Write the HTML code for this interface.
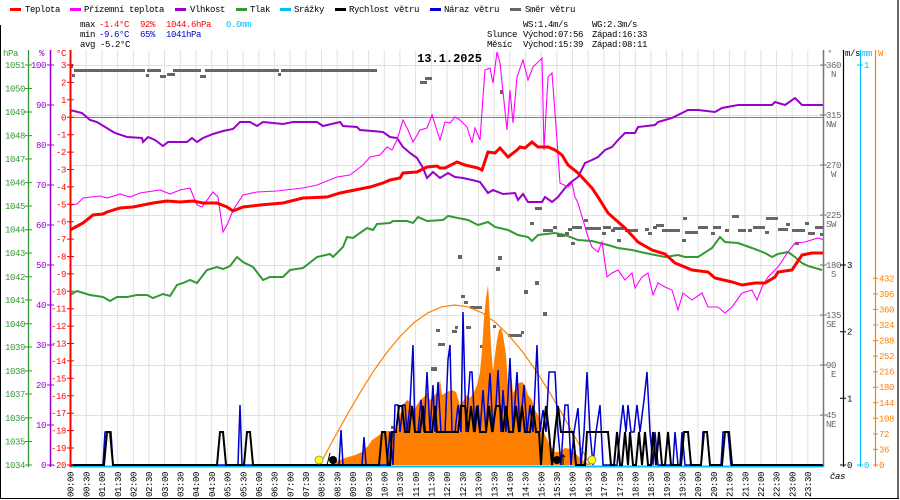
<!DOCTYPE html>
<html><head><meta charset="utf-8"><style>
html,body{margin:0;padding:0;background:#fff;}
svg{display:block;}
text{font-family:"Liberation Mono",monospace;font-size:9px;letter-spacing:-0.4px;}
</style></head><body>
<svg width="900" height="500" viewBox="0 0 900 500" xmlns="http://www.w3.org/2000/svg">
<rect x="0" y="0" width="900" height="500" fill="#fff"/>
<!-- frame -->
<line x1="0.5" y1="25" x2="0.5" y2="499" stroke="#000" stroke-width="1"/>
<line x1="898" y1="0" x2="898" y2="499" stroke="#000" stroke-width="1.2"/>
<line x1="0" y1="498.5" x2="899" y2="498.5" stroke="#000" stroke-width="1"/>

<!-- legend -->
<g>
<rect x="10" y="8" width="11" height="3" fill="#ff0000"/><text x="25" y="12">Teplota</text>
<rect x="70" y="8" width="11" height="3" fill="#ff00ff"/><text x="84" y="12">Přízemní teplota</text>
<rect x="175" y="8" width="11" height="3" fill="#9900cc"/><text x="190" y="12">Vlhkost</text>
<rect x="236" y="8" width="11" height="3" fill="#339933"/><text x="250" y="12">Tlak</text>
<rect x="280" y="8" width="11" height="3" fill="#00bfff"/><text x="294" y="12">Srážky</text>
<rect x="335" y="8" width="11" height="3" fill="#000"/><text x="349" y="12">Rychlost větru</text>
<rect x="430" y="8" width="11" height="3" fill="#0000cc"/><text x="444" y="12">Náraz větru</text>
<rect x="510" y="8" width="11" height="3" fill="#666"/><text x="525" y="12">Směr větru</text>
</g>
<!-- stats -->
<g>
<text x="80" y="27">max</text><text x="99" y="27" fill="#ff0000">-1.4°C</text><text x="140" y="27" fill="#ff0000">92%</text><text x="166" y="27" fill="#ff0000">1044.6hPa</text><text x="226" y="27" fill="#00bfff">0.0mm</text>
<text x="80" y="37">min</text><text x="99" y="37" fill="#0000cc">-9.6°C</text><text x="140" y="37" fill="#0000cc">65%</text><text x="166" y="37" fill="#0000cc">1041hPa</text>
<text x="80" y="47">avg -5.2°C</text>
<text x="523" y="27">WS:1.4m/s</text><text x="592" y="27">WG:2.3m/s</text>
<text x="487" y="37">Slunce</text><text x="523" y="37">Východ:07:56</text><text x="592" y="37">Západ:16:33</text>
<text x="487" y="47">Měsíc</text><text x="523" y="47">Východ:15:39</text><text x="592" y="47">Západ:08:11</text>
</g>

<!-- grid -->
<g stroke="#e0e0e0" stroke-width="1">
<line x1="86.2" y1="50" x2="86.2" y2="465"/><line x1="101.9" y1="50" x2="101.9" y2="465"/><line x1="117.6" y1="50" x2="117.6" y2="465"/><line x1="133.3" y1="50" x2="133.3" y2="465"/><line x1="148.9" y1="50" x2="148.9" y2="465"/><line x1="164.6" y1="50" x2="164.6" y2="465"/><line x1="180.3" y1="50" x2="180.3" y2="465"/><line x1="196" y1="50" x2="196" y2="465"/><line x1="211.7" y1="50" x2="211.7" y2="465"/><line x1="227.4" y1="50" x2="227.4" y2="465"/><line x1="243.1" y1="50" x2="243.1" y2="465"/><line x1="258.8" y1="50" x2="258.8" y2="465"/><line x1="274.4" y1="50" x2="274.4" y2="465"/><line x1="290.1" y1="50" x2="290.1" y2="465"/><line x1="305.8" y1="50" x2="305.8" y2="465"/><line x1="321.5" y1="50" x2="321.5" y2="465"/><line x1="337.2" y1="50" x2="337.2" y2="465"/><line x1="352.9" y1="50" x2="352.9" y2="465"/><line x1="368.6" y1="50" x2="368.6" y2="465"/><line x1="384.3" y1="50" x2="384.3" y2="465"/><line x1="399.9" y1="50" x2="399.9" y2="465"/><line x1="415.6" y1="50" x2="415.6" y2="465"/><line x1="431.3" y1="50" x2="431.3" y2="465"/><line x1="447" y1="50" x2="447" y2="465"/><line x1="462.7" y1="50" x2="462.7" y2="465"/><line x1="478.4" y1="50" x2="478.4" y2="465"/><line x1="494.1" y1="50" x2="494.1" y2="465"/><line x1="509.8" y1="50" x2="509.8" y2="465"/><line x1="525.4" y1="50" x2="525.4" y2="465"/><line x1="541.1" y1="50" x2="541.1" y2="465"/><line x1="556.8" y1="50" x2="556.8" y2="465"/><line x1="572.5" y1="50" x2="572.5" y2="465"/><line x1="588.2" y1="50" x2="588.2" y2="465"/><line x1="603.9" y1="50" x2="603.9" y2="465"/><line x1="619.6" y1="50" x2="619.6" y2="465"/><line x1="635.3" y1="50" x2="635.3" y2="465"/><line x1="650.9" y1="50" x2="650.9" y2="465"/><line x1="666.6" y1="50" x2="666.6" y2="465"/><line x1="682.3" y1="50" x2="682.3" y2="465"/><line x1="698" y1="50" x2="698" y2="465"/><line x1="713.7" y1="50" x2="713.7" y2="465"/><line x1="729.4" y1="50" x2="729.4" y2="465"/><line x1="745.1" y1="50" x2="745.1" y2="465"/><line x1="760.8" y1="50" x2="760.8" y2="465"/><line x1="776.4" y1="50" x2="776.4" y2="465"/><line x1="792.1" y1="50" x2="792.1" y2="465"/><line x1="807.8" y1="50" x2="807.8" y2="465"/>
<line x1="70" y1="65.5" x2="823" y2="65.5"/><line x1="70" y1="115.5" x2="823" y2="115.5"/><line x1="70" y1="165.5" x2="823" y2="165.5"/><line x1="70" y1="215.5" x2="823" y2="215.5"/><line x1="70" y1="265.5" x2="823" y2="265.5"/><line x1="70" y1="315.5" x2="823" y2="315.5"/><line x1="70" y1="365.5" x2="823" y2="365.5"/><line x1="70" y1="415.5" x2="823" y2="415.5"/>
</g>
<line x1="70" y1="117.5" x2="823" y2="117.5" stroke="#808080" stroke-width="1"/>

<!-- title -->
<text x="449.5" y="62" text-anchor="middle" style="font-size:12px;font-weight:bold;letter-spacing:0">13.1.2025</text>

<!-- wind direction squares -->
<g fill="#666">
<rect x="74" y="69" width="71" height="3"/><rect x="147" y="69" width="14" height="3"/><rect x="173" y="69" width="28" height="3"/><rect x="205" y="69" width="74" height="3"/><rect x="281" y="69" width="96" height="3"/>
<rect x="70" y="64" width="3" height="4"/><rect x="72" y="74" width="3" height="3"/><rect x="146" y="74" width="3" height="3"/><rect x="160" y="75" width="6" height="3"/><rect x="167" y="73" width="8" height="3"/><rect x="200" y="75" width="6" height="3"/><rect x="278" y="73" width="3" height="3"/><rect x="420" y="81" width="7" height="3"/><rect x="425" y="77" width="7" height="3"/>
<rect x="500" y="90" width="3" height="4"/><rect x="535" y="207" width="7" height="3"/><rect x="530" y="222" width="4" height="3"/>
<rect x="458" y="255" width="4" height="4"/><rect x="498" y="256" width="4" height="4"/><rect x="496" y="267" width="4" height="4"/><rect x="535" y="281" width="4" height="4"/><rect x="524" y="290" width="4" height="4"/><rect x="461" y="295" width="4" height="3"/><rect x="464" y="301" width="4" height="3"/><rect x="470" y="306" width="12" height="3"/><rect x="543" y="312" width="4" height="4"/>
<rect x="455" y="326" width="3" height="3"/><rect x="454" y="330" width="3" height="3"/><rect x="466" y="326" width="5" height="3"/><rect x="493" y="325" width="3" height="3"/><rect x="482" y="345" width="3" height="3"/><rect x="508" y="334" width="14" height="3"/><rect x="521" y="331" width="3" height="3"/>
<rect x="436" y="329" width="4" height="3"/><rect x="452" y="330" width="4" height="3"/><rect x="438" y="343" width="7" height="3"/><rect x="431" y="367" width="6" height="4"/><rect x="480" y="345" width="3" height="3"/><rect x="445" y="396" width="2" height="3"/><rect x="447" y="409" width="4" height="4"/><rect x="448" y="410" width="3" height="3"/>
<rect x="391" y="426" width="4" height="3"/><rect x="397" y="439" width="2" height="3"/><rect x="400" y="443" width="6" height="3"/><rect x="410" y="454" width="8" height="4"/><rect x="375" y="458" width="12" height="3"/><rect x="483" y="419" width="2" height="3"/><rect x="484" y="420" width="3" height="3"/><rect x="507" y="439" width="2" height="3"/><rect x="505" y="443" width="2" height="3"/><rect x="502" y="453" width="2" height="4"/>
<rect x="543" y="229" width="10" height="3"/><rect x="553" y="226" width="4" height="3"/><rect x="557" y="234" width="8" height="3"/><rect x="565" y="232" width="4" height="3"/><rect x="568" y="228" width="4" height="3"/><rect x="571" y="242" width="4" height="3"/><rect x="572" y="226" width="10" height="3"/><rect x="584" y="219" width="4" height="3"/><rect x="585" y="227" width="16" height="3"/><rect x="602" y="232" width="4" height="3"/><rect x="603" y="226" width="8" height="3"/><rect x="611" y="229" width="4" height="3"/><rect x="617" y="239" width="4" height="3"/><rect x="613" y="227" width="13" height="3"/><rect x="625" y="229" width="13" height="3"/><rect x="645" y="228" width="4" height="3"/><rect x="648" y="232" width="4" height="3"/><rect x="653" y="226" width="4" height="3"/><rect x="656" y="224" width="8" height="3"/><rect x="662" y="229" width="18" height="3"/><rect x="682" y="239" width="4" height="3"/><rect x="683" y="217" width="4" height="3"/><rect x="685" y="231" width="13" height="3"/><rect x="698" y="226" width="10" height="3"/><rect x="711" y="232" width="4" height="3"/><rect x="713" y="226" width="8" height="3"/><rect x="725" y="229" width="4" height="3"/><rect x="732" y="215" width="7" height="3"/><rect x="738" y="229" width="8" height="3"/><rect x="748" y="229" width="4" height="3"/><rect x="753" y="226" width="12" height="3"/><rect x="765" y="231" width="4" height="3"/><rect x="766" y="217" width="12" height="3"/><rect x="778" y="228" width="10" height="3"/><rect x="786" y="223" width="4" height="3"/><rect x="792" y="229" width="13" height="3"/><rect x="795" y="242" width="4" height="3"/><rect x="805" y="222" width="4" height="3"/><rect x="808" y="232" width="7" height="3"/><rect x="815" y="226" width="8" height="3"/><rect x="820" y="233" width="3" height="3"/>
</g>

<!-- solar radiation area -->
<path d="M329,465 L335,462 L345,458 L355,455 L362,452 L368,446 L372,440 L378,436 L384,431 L392,431 L398,430 L400,415 L403,405 L407,400 L410,402 L414,410 L417,405 L420,400 L424,397 L427,393 L430,400 L433,398 L437,392 L440,380 L442,395 L447,392 L452,390 L456,392 L460,405 L464,400 L467,395 L470,398 L474,392 L477,385 L480,372 L482,350 L484,318 L486,298 L488,285 L489,300 L491,345 L493,372 L495,355 L497,340 L499,330 L501,328 L503,335 L506,355 L508,385 L511,372 L513,393 L516,388 L519,383 L522,382 L525,385 L528,395 L532,400 L535,410 L538,415 L541,425 L545,435 L550,445 L555,452 L560,452 L565,448 L570,449 L575,453 L580,458 L585,462 L590,465 Z" fill="#ff8000"/>
<!-- theoretical sun -->
<polyline fill="none" stroke="#ff8000" stroke-width="1.2" points="319.6,465 333.1,440 346.7,415.6 360.2,392.4 373.7,370.9 387.3,351.9 400.8,335.6 414.3,322.4 427.9,312.8 441.4,306.9 454.9,305 468.4,306.9 482,312.8 495.5,322.4 509,335.6 522.6,351.9 536.1,370.9 549.6,392.4 563.2,415.6 576.7,440 590.2,465"/>

<!-- precipitation baseline -->
<line x1="70" y1="466.5" x2="823" y2="466.5" stroke="#00bfff" stroke-width="2"/>

<!-- gust -->
<path fill="none" stroke="#0000cc" stroke-width="1.5" d="M70,465 H103 L105,432 H111 L113,465 H238 L240,405 L242,465 H339 L341,430 L343,465 H362 L364,437 L366,465 H384 L387,465 L390,432 L393,465 L395,405 L398,405 L400,432 L403,405 L405,405 L407,432 L410,405 L413,345 L415,432 L418,432 L421,400 L424,432 L427,372 L430,432 L433,385 L435,432 L438,382 L441,432 L445,432 L448,360 L450,345 L452,432 L455,432 L458,405 L461,432 L463,312 L466,432 L468,400 L470,372 L472,372 L475,432 L478,405 L480,432 L483,390 L486,432 L490,373 L493,432 L496,405 L498,370 L501,432 L503,390 L506,432 L510,358 L513,432 L517,372 L520,432 L524,385 L527,432 L530,405 L533,432 L537,345 L540,432 L543,410 L546,432 L549,372 L555,372 L558,432 L561,465 L563,432 L565,405 L568,405 L571,465 L574,432 L578,408 L581,465 L584,432 L587,372 L590,432 L593,465 L596,432 L600,405 L603,465 L617,465 L620,432 L623,405 L626,432 L628,405 L631,432 L634,432 L637,405 L640,432 L644,400 L647,372 L650,432 L653,465 L655,432 L658,465 L673,465 L675,432 L678,465 L680,465 L682,432 L685,465 L701,465 L703,432 L707,432 L710,465 L721,465 L723,432 L728,432 L731,465 H823"/>
<!-- wind speed -->
<path fill="none" stroke="#000" stroke-width="2" d="M70,465 H104 L107,432 H110 L113,465 H217 L220,432 H223 L226,465 H244 L247,432 H250 L253,465 H379 L382,432 L385,432 L388,465 H390 L392,432 H396 L399,406 H402 L405,432 H409 L412,406 L415,432 H420 L423,406 L425,432 H432 L435,406 L437,432 H458 L461,406 H465 L468,432 L471,406 L474,432 L477,406 L480,432 H486 L489,406 L492,432 L496,406 H500 L503,432 L506,406 L509,432 H513 L516,406 L519,432 L522,406 L525,432 H530 L533,406 L536,432 H539 L541,465 L543,432 L546,406 L549,432 L552,465 L555,432 L558,406 L561,432 H573 L576,465 H585 L587,432 H608 L611,465 H614 L617,432 L620,465 H622 L625,432 L628,465 L630,432 L633,465 H636 L639,432 L642,465 L645,432 L648,465 H651 L653,432 L656,465 L659,432 L662,465 H665 L668,432 L671,465 H681 L684,432 H688 L691,465 H701 L704,432 H707 L710,465 H722 L725,432 H729 L732,465 H823"/>

<!-- pressure -->
<polyline fill="none" stroke="#339933" stroke-width="2" points="70,295 77,291 90,295 103,297 110,301 117,297 127,297 137,295 147,295 153,298 163,294 170,296 177,285 183,283 190,280 197,283 207,270 217,267 223,269 230,266 237,257 243,262 253,267 263,280 270,277 283,277 290,270 303,268 317,257 330,254 333,257 343,247 347,237 353,238 367,228 373,230 377,224 390,223 393,221 407,221 413,223 418,217 427,221 443,220 448,216 458,218 468,220 478,225 488,222 495,227 508,230 518,235 528,237 532,241 538,235 555,233 565,235 578,240 592,241 608,245 618,248 632,250 645,253 665,257 678,255 685,257 698,257 712,248 720,237 725,242 738,243 752,248 765,253 772,257 778,254 788,252 795,257 802,263 808,266 822,270"/>
<!-- humidity -->
<polyline fill="none" stroke="#9900cc" stroke-width="2" points="70,110 82,113 90,120 97,122 110,130 115,133 127,137 142,138 143,142 148,137 155,140 163,146 168,142 187,142 192,138 197,142 203,138 213,134 223,131 233,129 240,122 250,122 257,126 263,122 283,124 293,122 317,122 323,126 340,122 343,126 357,127 360,130 372,131 383,132 390,137 397,138 403,147 410,153 417,158 423,168 427,178 433,172 440,178 448,173 455,177 463,178 472,180 480,182 488,193 493,190 503,194 515,193 518,200 523,194 528,202 542,202 545,197 552,202 558,197 565,188 570,183 578,177 585,163 592,160 598,157 605,150 612,147 618,140 625,133 635,133 638,127 655,125 658,122 672,118 682,113 688,110 698,110 715,112 722,108 738,105 772,105 775,102 785,105 795,98 802,105 823,105"/>
<!-- ground temp -->
<polyline fill="none" stroke="#ff00ff" stroke-width="1.1" points="70,205 77,204 83,198 100,196 107,198 120,194 130,197 140,193 160,190 170,194 180,190 190,188 197,205 202,207 213,192 218,197 223,232 228,223 233,210 243,195 257,192 277,191 303,188 317,185 337,177 350,175 363,165 370,157 380,155 387,147 392,150 397,140 403,120 408,130 413,142 420,130 427,128 432,115 440,140 445,122 450,123 455,117 460,120 467,127 472,143 475,128 480,140 483,97 485,70 490,68 493,83 497,52 500,63 507,130 510,90 513,123 517,77 523,60 528,80 533,67 542,58 544,150 548,77 552,73 557,140 560,183 568,187 572,183 575,197 578,203 583,220 588,237 592,247 598,252 602,242 607,277 612,273 618,270 625,280 632,273 635,288 642,277 648,273 653,295 658,283 665,287 672,290 678,310 683,293 692,300 702,293 708,307 718,307 725,313 732,307 742,293 752,290 757,300 762,287 768,277 778,267 788,252 795,243 805,242 818,238 824,240"/>
<!-- temperature -->
<polyline fill="none" stroke="#ff0000" stroke-width="3" points="70,230 83,223 93,215 103,214 107,212 120,208 133,207 153,203 167,201 180,202 193,201 203,203 217,203 227,207 233,211 243,207 260,205 283,203 303,198 327,197 340,193 360,189 370,187 383,183 390,180 400,178 403,173 417,172 427,167 437,166 440,168 445,168 457,162 465,165 478,168 482,170 488,152 495,153 500,148 508,157 517,150 520,147 525,148 532,142 538,147 548,147 555,150 562,155 568,165 578,173 592,188 598,197 608,213 625,228 638,242 652,250 665,254 675,263 692,270 708,272 715,278 732,282 742,285 755,283 765,283 775,277 778,272 792,270 802,255 812,253 823,253"/>

<!-- sun/moon markers -->
<circle cx="319" cy="460" r="4" fill="#ffff00" stroke="#888" stroke-width="0.8"/>
<circle cx="592" cy="460" r="4" fill="#ffff00" stroke="#888" stroke-width="0.8"/>
<circle cx="333" cy="460" r="4" fill="#000"/>
<circle cx="557" cy="460" r="4" fill="#000"/>
<path d="M563,465 V455 M561,457 L563,455 L565,457 M327,465 L330,453" stroke="#000" stroke-width="1" fill="none"/>

<!-- left axes -->
<line x1="28.5" y1="50" x2="28.5" y2="467" stroke="#339933" stroke-width="1.3"/>
<line x1="50.5" y1="50" x2="50.5" y2="467" stroke="#9900cc" stroke-width="1.5"/>
<line x1="70.5" y1="50" x2="70.5" y2="467" stroke="#ff0000" stroke-width="2"/>
<text x="3" y="56" fill="#339933">hPa</text>
<text x="39" y="56" fill="#9900cc">%</text>
<text x="56" y="56" fill="#ff0000">°C</text>
<g stroke="#339933" stroke-width="1">
<path d="M25,65H32M25,88.5H32M25,112H32M25,135.6H32M25,159H32M25,182.6H32M25,206H32M25,229.7H32M25,253H32M25,276.8H32M25,300H32M25,323.8H32M25,347H32M25,370.9H32M25,394H32M25,417.9H32M25,441.5H32M25,465H32"/>
</g>
<g fill="#339933" text-anchor="end">
<text x="25" y="68">1051</text><text x="25" y="91.5">1050</text><text x="25" y="115">1049</text><text x="25" y="138.6">1048</text><text x="25" y="162">1047</text><text x="25" y="185.6">1046</text><text x="25" y="209">1045</text><text x="25" y="232.7">1044</text><text x="25" y="256">1043</text><text x="25" y="279.8">1042</text><text x="25" y="303">1041</text><text x="25" y="326.8">1040</text><text x="25" y="350">1039</text><text x="25" y="373.9">1038</text><text x="25" y="397">1037</text><text x="25" y="420.9">1036</text><text x="25" y="444.5">1035</text><text x="25" y="468">1034</text>
</g>
<path d="M47,65H54M47,105H54M47,145H54M47,185H54M47,225H54M47,265H54M47,305H54M47,345H54M47,385H54M47,425H54M47,465H54" stroke="#9900cc" stroke-width="1"/>
<g fill="#9900cc" text-anchor="end">
<text x="46" y="68">100</text><text x="46" y="108">90</text><text x="46" y="148">80</text><text x="46" y="188">70</text><text x="46" y="228">60</text><text x="46" y="268">50</text><text x="46" y="308">40</text><text x="46" y="348">30</text><text x="46" y="388">20</text><text x="46" y="428">10</text><text x="46" y="468">0</text>
</g>
<path d="M67,65H74M67,82.4H74M67,99.8H74M67,117.3H74M67,134.7H74M67,152.1H74M67,169.5H74M67,186.9H74M67,204.3H74M67,221.7H74M67,239.1H74M67,256.5H74M67,273.9H74M67,291.3H74M67,308.7H74M67,326.1H74M67,343.5H74M67,360.9H74M67,378.3H74M67,395.8H74M67,413.2H74M67,430.6H74M67,448H74M67,465H74" stroke="#ff0000" stroke-width="1"/>
<g fill="#ff0000" text-anchor="end">
<text x="66" y="68">3</text><text x="66" y="85.4">2</text><text x="66" y="102.8">1</text><text x="66" y="120.3">0</text><text x="66" y="137.7">-1</text><text x="66" y="155.1">-2</text><text x="66" y="172.5">-3</text><text x="66" y="189.9">-4</text><text x="66" y="207.3">-5</text><text x="66" y="224.7">-6</text><text x="66" y="242.1">-7</text><text x="66" y="259.5">-8</text><text x="66" y="276.9">-9</text><text x="66" y="294.3">-10</text><text x="66" y="311.7">-11</text><text x="66" y="329.1">-12</text><text x="66" y="346.5">-13</text><text x="66" y="363.9">-14</text><text x="66" y="381.3">-15</text><text x="66" y="398.8">-16</text><text x="66" y="416.2">-17</text><text x="66" y="433.6">-18</text><text x="66" y="451">-19</text><text x="66" y="468">-20</text>
</g>

<!-- right axes -->
<line x1="823.5" y1="50" x2="823.5" y2="467" stroke="#777" stroke-width="1.5"/>
<line x1="843.5" y1="50" x2="843.5" y2="467" stroke="#000" stroke-width="1.2"/>
<line x1="860.5" y1="50" x2="860.5" y2="467" stroke="#00bfff" stroke-width="1.2"/>
<line x1="875.5" y1="50" x2="875.5" y2="467" stroke="#ff8000" stroke-width="1.2"/>
<text x="827" y="56" fill="#666">°</text>
<text x="845" y="56">m/s</text>
<text x="862" y="56" fill="#00bfff">mm</text>
<text x="878" y="56" fill="#ff8000">W</text>
<path d="M820,65H827M820,115H827M820,165H827M820,215H827M820,265H827M820,315H827M820,365H827M820,415H827" stroke="#777" stroke-width="1"/>
<g fill="#666">
<text x="826" y="68">360</text><text x="836" y="77" text-anchor="end">N</text>
<text x="826" y="118">315</text><text x="836" y="127" text-anchor="end">NW</text>
<text x="826" y="168">270</text><text x="836" y="177" text-anchor="end">W</text>
<text x="826" y="218">225</text><text x="836" y="227" text-anchor="end">SW</text>
<text x="826" y="268">180</text><text x="836" y="277" text-anchor="end">S</text>
<text x="826" y="318">135</text><text x="836" y="327" text-anchor="end">SE</text>
<text x="826" y="368">90</text><text x="836" y="377" text-anchor="end">E</text>
<text x="826" y="418">45</text><text x="836" y="427" text-anchor="end">NE</text>
</g>
<path d="M840,265H846M840,331.7H846M840,398.3H846M840,465H846" stroke="#000" stroke-width="1"/>
<text x="847" y="268">3</text><text x="847" y="334.7">2</text><text x="847" y="401.3">1</text><text x="847" y="468">0</text>
<path d="M857,65H863M857,465H863" stroke="#00bfff" stroke-width="1"/>
<text x="864" y="68" fill="#00bfff">1</text><text x="864" y="468" fill="#00bfff">0</text>
<path d="M873,465H878M873,449.4H878M873,433.9H878M873,418.3H878M873,402.8H878M873,387.2H878M873,371.7H878M873,356.1H878M873,340.6H878M873,325H878M873,309.4H878M873,293.9H878M873,278.3H878" stroke="#ff8000" stroke-width="1"/>
<g fill="#ff8000">
<text x="879" y="468">0</text><text x="879" y="452.4">36</text><text x="879" y="436.9">72</text><text x="879" y="421.3">108</text><text x="879" y="405.8">144</text><text x="879" y="390.2">180</text><text x="879" y="374.7">216</text><text x="879" y="359.1">252</text><text x="879" y="343.6">288</text><text x="879" y="328">324</text><text x="879" y="312.4">360</text><text x="879" y="296.9">396</text><text x="879" y="281.3">432</text>
</g>
<text x="830" y="479" style="font-style:italic">čas</text>

<!-- time labels -->
<g>
<text transform="translate(73.7,497) rotate(-90)">00:00</text><text transform="translate(89.4,497) rotate(-90)">00:30</text><text transform="translate(105.1,497) rotate(-90)">01:00</text><text transform="translate(120.8,497) rotate(-90)">01:30</text><text transform="translate(136.5,497) rotate(-90)">02:00</text><text transform="translate(152.1,497) rotate(-90)">02:30</text><text transform="translate(167.8,497) rotate(-90)">03:00</text><text transform="translate(183.5,497) rotate(-90)">03:30</text><text transform="translate(199.2,497) rotate(-90)">04:00</text><text transform="translate(214.9,497) rotate(-90)">04:30</text><text transform="translate(230.6,497) rotate(-90)">05:00</text><text transform="translate(246.3,497) rotate(-90)">05:30</text><text transform="translate(262,497) rotate(-90)">06:00</text><text transform="translate(277.6,497) rotate(-90)">06:30</text><text transform="translate(293.3,497) rotate(-90)">07:00</text><text transform="translate(309,497) rotate(-90)">07:30</text><text transform="translate(324.7,497) rotate(-90)">08:00</text><text transform="translate(340.4,497) rotate(-90)">08:30</text><text transform="translate(356.1,497) rotate(-90)">09:00</text><text transform="translate(371.8,497) rotate(-90)">09:30</text><text transform="translate(387.5,497) rotate(-90)">10:00</text><text transform="translate(403.1,497) rotate(-90)">10:30</text><text transform="translate(418.8,497) rotate(-90)">11:00</text><text transform="translate(434.5,497) rotate(-90)">11:30</text><text transform="translate(450.2,497) rotate(-90)">12:00</text><text transform="translate(465.9,497) rotate(-90)">12:30</text><text transform="translate(481.6,497) rotate(-90)">13:00</text><text transform="translate(497.3,497) rotate(-90)">13:30</text><text transform="translate(513,497) rotate(-90)">14:00</text><text transform="translate(528.6,497) rotate(-90)">14:30</text><text transform="translate(544.3,497) rotate(-90)">15:00</text><text transform="translate(560,497) rotate(-90)">15:30</text><text transform="translate(575.7,497) rotate(-90)">16:00</text><text transform="translate(591.4,497) rotate(-90)">16:30</text><text transform="translate(607.1,497) rotate(-90)">17:00</text><text transform="translate(622.8,497) rotate(-90)">17:30</text><text transform="translate(638.5,497) rotate(-90)">18:00</text><text transform="translate(654.1,497) rotate(-90)">18:30</text><text transform="translate(669.8,497) rotate(-90)">19:00</text><text transform="translate(685.5,497) rotate(-90)">19:30</text><text transform="translate(701.2,497) rotate(-90)">20:00</text><text transform="translate(716.9,497) rotate(-90)">20:30</text><text transform="translate(732.6,497) rotate(-90)">21:00</text><text transform="translate(748.3,497) rotate(-90)">21:30</text><text transform="translate(764,497) rotate(-90)">22:00</text><text transform="translate(779.6,497) rotate(-90)">22:30</text><text transform="translate(795.3,497) rotate(-90)">23:00</text><text transform="translate(811,497) rotate(-90)">23:30</text>
</g>
</svg>
</body></html>
